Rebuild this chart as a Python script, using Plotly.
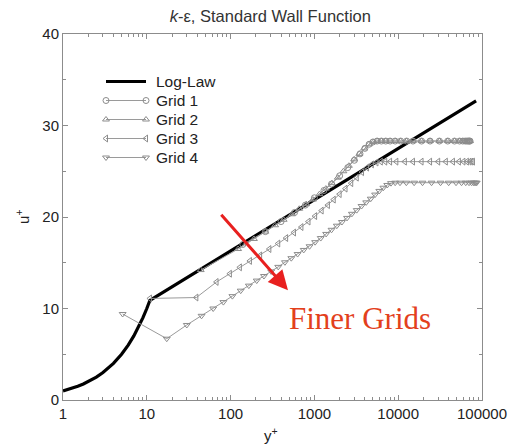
import math
import plotly.graph_objects as go

# Log-law reference profile (viscous sublayer u+ = y+, then log region)
loglaw_yplus = [1, 1.25, 1.5, 1.75, 2, 2.5, 3, 3.5, 4, 5, 6, 7, 8, 9, 10, 10.9, 85000]
loglaw_uplus = [1, 1.25, 1.5, 1.75, 2, 2.5, 3, 3.5, 4, 5, 6, 7, 8, 9, 10, 10.9, 32.7]

# Top plateau, shared by the two coarsest grids
plateau_top_yplus = [5600, 6300, 7100, 8000, 9200, 10700, 12600, 15000, 19000, 24000,
                     31000, 39000, 47000, 54000, 59000, 63000, 66000, 68500, 70500, 72000]
plateau_top_uplus = [28.3] * len(plateau_top_yplus)

grid1_yplus = [140, 260, 400, 580, 780, 1000, 1300, 1600, 2000, 2500, 3000, 3500,
               4000, 4500, 5000] + plateau_top_yplus
grid1_uplus = [17.0, 18.4, 19.5, 20.5, 21.3, 22.1, 22.9, 23.6, 24.5, 25.4, 26.2, 26.9,
               27.5, 27.95, 28.2] + plateau_top_uplus

grid2_yplus = [44, 123, 190, 260, 340, 430, 540, 660, 800, 960, 1150, 1370, 1620, 1900,
               2220, 2580, 2980, 3430, 3930, 4480, 5050] + plateau_top_yplus
grid2_uplus = [14.2, 16.5, 17.6, 18.4, 19.1, 19.7, 20.3, 20.9, 21.4, 21.9, 22.5, 23.1,
               23.7, 24.3, 25.0, 25.6, 26.3, 26.9, 27.5, 27.95, 28.2] + plateau_top_uplus

grid3_yplus = [10.9, 39, 68, 98, 129, 170, 225, 290, 370, 460, 570, 700, 850, 1020, 1220,
               1450, 1700, 2000, 2350, 2750, 3200, 3700, 4250, 4850, 5500, 6200, 7000,
               8000, 9500, 12000, 15000, 19000, 24000, 30000, 37000, 45000, 53000, 60000,
               66000, 71000, 75000, 78000]
grid3_uplus = [11.1, 11.2, 12.9, 13.8, 14.5, 15.2, 15.8, 16.5, 17.1, 17.7, 18.3, 18.9,
               19.5, 20.1, 20.7, 21.3, 21.9, 22.5, 23.1, 23.7, 24.3, 24.9, 25.4, 25.75,
               25.95, 26.05, 26.05, 26.05, 26.05, 26.05, 26.05, 26.05, 26.05, 26.05,
               26.05, 26.05, 26.05, 26.05, 26.05, 26.05, 26.05, 26.05]

grid4_yplus = [5.15, 17.3, 30, 45, 62, 82, 105, 132, 165, 205, 250, 305, 370, 445, 530,
               630, 745, 875, 1020, 1190, 1380, 1600, 1850, 2130, 2450, 2800, 3200, 3650,
               4150, 4700, 5300, 5950, 6650, 7400, 8200, 9200, 10500, 12500, 15500, 19500,
               25000, 32000, 40000, 49000, 57000, 64000, 70000, 75000, 79000, 82000,
               84500, 86500]
grid4_uplus = [9.4, 6.7, 8.2, 9.2, 10.0, 10.7, 11.35, 11.95, 12.5, 13.05, 13.55, 14.05,
               14.55, 15.05, 15.5, 15.95, 16.4, 16.8, 17.25, 17.7, 18.15, 18.6, 19.05,
               19.45, 19.9, 20.35, 20.75, 21.2, 21.6, 22.0, 22.45, 22.85, 23.2, 23.5,
               23.7, 23.75, 23.75, 23.75, 23.75, 23.75, 23.75, 23.75, 23.75, 23.75,
               23.75, 23.75, 23.75, 23.75, 23.75, 23.75, 23.75, 23.75]

x_tick_vals = [1, 10, 100, 1000, 10000, 100000]
x_tick_text = ["1", "10", "100", "1000", "10000", "100000"]
y_tick_vals = [0, 10, 20, 30, 40]

GREY = "#8c8c8c"
LINE_GREY = "#9a9a9a"
FONT = "Liberation Sans, Arial, sans-serif"
TEXT = "#222"

W, H = 512, 444
ML, MR, MT, MB = 63, 30, 34, 44
PW, PH = W - ML - MR, H - MT - MB


def px_to_frac(px, py):
    """Pixel position inside the page -> fractions of the plot area."""
    return (px - ML) / PW, (H - MB - py) / PH


fig = go.Figure()

fig.add_trace(go.Scatter(
    x=loglaw_yplus, y=loglaw_uplus, mode="lines", name="Log-Law",
    line=dict(color="black", width=3.2), showlegend=False))

grids = [
    ("Grid 1", grid1_yplus, grid1_uplus, "circle-open"),
    ("Grid 2", grid2_yplus, grid2_uplus, "triangle-up-open"),
    ("Grid 3", grid3_yplus, grid3_uplus, "triangle-left-open"),
    ("Grid 4", grid4_yplus, grid4_uplus, "triangle-down-open"),
]
for name, xs, ys, sym in grids:
    fig.add_trace(go.Scatter(
        x=xs, y=ys, mode="lines+markers", name=name, showlegend=False,
        line=dict(color=LINE_GREY, width=1),
        marker=dict(symbol=sym, size=6, color=GREY, line=dict(width=1, color=GREY))))

# Key: short line samples with a marker at each end, labels to the right
key_x0, key_x1, key_text_x = 106, 146, 154
key_top, key_gap = 81.5, 19
key_items = [("Log-Law", None, "black", 3.2)] + [(g[0], g[3], LINE_GREY, 1) for g in grids]
for i, (label, sym, color, width) in enumerate(key_items):
    row_y = key_top + i * key_gap
    fx0, fy = px_to_frac(key_x0, row_y)
    fx1, _ = px_to_frac(key_x1, row_y)
    fig.add_trace(go.Scatter(
        x=[fx0, fx1], y=[fy, fy], xaxis="x2", yaxis="y2", showlegend=False,
        mode="lines" if sym is None else "lines+markers",
        line=dict(color=color, width=width), hoverinfo="skip",
        marker=dict(symbol=sym or "circle", size=6, color=GREY,
                    line=dict(width=1, color=GREY))))
    tx, _ = px_to_frac(key_text_x, row_y)
    fig.add_annotation(x=tx, y=fy, xref="x2", yref="y2", text=label, showarrow=False,
                       xanchor="left", yanchor="middle",
                       font=dict(family=FONT, size=15.5, color=TEXT))

# Arrow indicating the trend with grid refinement
fig.add_annotation(
    x=math.log10(484), y=12.0, ax=math.log10(74.6), ay=20.4,
    xref="x", yref="y", axref="x", ayref="y",
    text="", showarrow=True, arrowhead=2, arrowsize=1.3, arrowwidth=3,
    arrowcolor="#e8201f")
fig.add_annotation(
    x=math.log10(3500), y=8.96, xref="x", yref="y", text="Finer Grids",
    showarrow=False, font=dict(family="Liberation Serif, Times New Roman, serif",
                               size=31, color="#e3401c"))

# Axis titles
fig.add_annotation(x=0.496, y=-0.095, xref="paper", yref="paper", text="y<sup>+</sup>",
                   showarrow=False, xanchor="center", yanchor="middle",
                   font=dict(family=FONT, size=15, color=TEXT))
fig.add_annotation(x=-0.098, y=0.5, xref="paper", yref="paper", text="u<sup>+</sup>",
                   showarrow=False, xanchor="center", yanchor="middle", textangle=-90,
                   font=dict(family=FONT, size=15, color=TEXT))

minor_x = [m * 10 ** d for d in range(5) for m in range(2, 10)]

fig.update_layout(
    xaxis=dict(
        type="log", range=[0, 5], tickvals=x_tick_vals, ticktext=x_tick_text,
        ticks="inside", ticklen=5, tickcolor=GREY, showline=True, linecolor=GREY,
        linewidth=1, mirror="ticks", showgrid=False, zeroline=False, automargin=False,
        tickfont=dict(family=FONT, size=15, color=TEXT),
        minor=dict(tickvals=minor_x, ticks="inside", ticklen=3, tickcolor=GREY,
                   showgrid=False)),
    yaxis=dict(
        range=[0, 40], tickvals=y_tick_vals, ticks="inside", ticklen=5, tickcolor=GREY,
        showline=True, linecolor=GREY, linewidth=1, mirror="ticks", showgrid=False,
        zeroline=False, automargin=False, tickfont=dict(family=FONT, size=15, color=TEXT),
        minor=dict(dtick=5, ticks="inside", ticklen=3, tickcolor=GREY, showgrid=False)),
    xaxis2=dict(overlaying="x", range=[0, 1], visible=False, domain=[0, 1]),
    yaxis2=dict(overlaying="y", range=[0, 1], visible=False, domain=[0, 1]),
    width=W, height=H,
    margin=dict(l=ML, r=MR, t=MT, b=MB),
    paper_bgcolor="white", plot_bgcolor="white",
    title=dict(text="<i>k</i>-ε, Standard Wall Function", x=0.528, xanchor="center",
               y=1 - 16 / H, yanchor="middle", font=dict(family=FONT, size=16.5, color="#333")),
    showlegend=False)

fig.write_html("out.html")
